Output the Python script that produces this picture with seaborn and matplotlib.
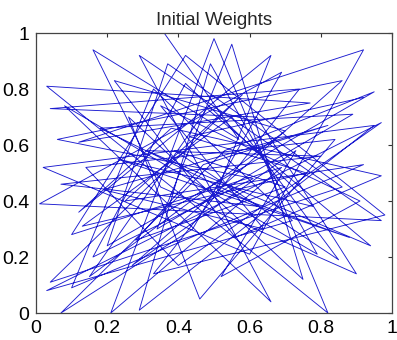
import matplotlib
matplotlib.use("Agg")
import matplotlib.pyplot as plt
import seaborn as sns
import pandas as pd

# Weight vectors (x, y) in plotting order
wx = [0.36, 0.57, 0.16, 0.35, 0.90, 0.62, 0.04, 0.74, 0.33, 0.98,
      0.42, 0.10, 0.69, 0.21, 0.50, 0.82, 0.03, 0.77, 0.12, 0.92,
      0.60, 0.02, 0.95, 0.29, 0.49, 0.79, 0.08, 0.66, 0.29, 0.97,
      0.01, 0.69, 0.44, 0.07, 0.53, 0.95, 0.20, 0.37, 0.86, 0.04,
      0.58, 0.25, 0.92, 0.10, 0.33, 0.72, 0.03, 0.97, 0.40, 0.14,
      0.84, 0.46, 0.26, 0.75, 0.55, 0.34, 0.89, 0.18, 0.63, 0.07,
      0.80, 0.31, 0.94, 0.48, 0.15, 0.70, 0.22, 0.56, 0.97, 0.38,
      0.12, 0.66, 0.51, 0.88, 0.23, 0.78, 0.42, 0.16, 0.61, 0.06,
      0.86, 0.45, 0.27, 0.73, 0.52, 0.91, 0.35, 0.64, 0.19, 0.82,
      0.47, 0.28, 0.70, 0.39, 0.85, 0.55, 0.13, 0.76, 0.43, 0.92]
wy = [1.00, 0.62, 0.94, 0.45, 0.14, 0.70, 0.73, 0.80, 0.14, 0.35,
      0.92, 0.28, 0.52, 0.00, 0.98, 0.00, 0.81, 0.75, 0.61, 0.94,
      0.21, 0.52, 0.67, 0.01, 0.89, 0.21, 0.74, 0.04, 0.92, 0.33,
      0.39, 0.86, 0.30, 0.00, 0.58, 0.79, 0.24, 0.89, 0.45, 0.11,
      0.78, 0.40, 0.53, 0.09, 0.80, 0.33, 0.08, 0.68, 0.17, 0.52,
      0.62, 0.05, 0.70, 0.12, 0.96, 0.30, 0.71, 0.66, 0.38, 0.46,
      0.56, 0.58, 0.24, 0.73, 0.13, 0.65, 0.83, 0.27, 0.49, 0.66,
      0.36, 0.92, 0.44, 0.27, 0.55, 0.38, 0.82, 0.20, 0.48, 0.62,
      0.83, 0.37, 0.17, 0.58, 0.13, 0.40, 0.74, 0.30, 0.44, 0.67,
      0.53, 0.26, 0.45, 0.58, 0.19, 0.70, 0.31, 0.50, 0.63, 0.77]

ticks = [0, 0.2, 0.4, 0.6, 0.8, 1]
tick_labels = ["0", "0.2", "0.4", "0.6", "0.8", "1"]

sns.set_style("white")
plt.rcParams['font.family'] = ['Liberation Sans', 'DejaVu Sans']

df = pd.DataFrame({"x": wx, "y": wy})

fig = plt.figure(figsize=(3.97, 3.40), dpi=100)
ax = fig.add_axes([0.0907, 0.0794, 0.8967, 0.8235])
sns.lineplot(data=df, x="x", y="y", sort=False, estimator=None,
             color="#1c1cd0", linewidth=0.65, ax=ax)

ax.set_xlim(0, 1)
ax.set_ylim(0, 1)
ax.set_xticks(ticks)
ax.set_xticklabels(tick_labels)
ax.set_yticks(ticks)
ax.set_yticklabels(tick_labels)
ax.set_xlabel("")
ax.set_ylabel("")
ax.tick_params(direction="in", length=3, top=True, right=True,
               labelsize=14, colors="#333333", labelcolor="black", pad=5)
for s in ax.spines.values():
    s.set_color("#444444")
    s.set_linewidth(0.9)
ax.set_title("Initial Weights", fontsize=13.5, pad=6)

fig.savefig("out.png", dpi=100, facecolor="white")
